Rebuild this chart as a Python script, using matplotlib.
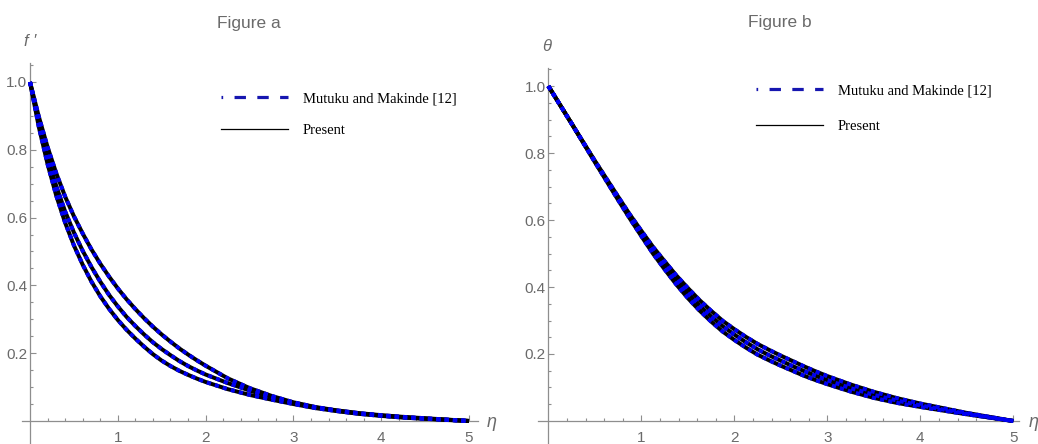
import numpy as np
import matplotlib
matplotlib.use("Agg")
import matplotlib.pyplot as plt
from matplotlib.lines import Line2D
from matplotlib.ticker import FixedLocator

# ---- data -------------------------------------------------------------
# Figure a: velocity profiles f'(eta) for three parameter values
eta_a = [0.0, 0.1, 0.2, 0.3, 0.4, 0.5, 0.6, 0.7, 0.8, 0.9, 1.0,
         1.1, 1.2, 1.3, 1.4, 1.5, 1.6, 1.7, 1.8, 1.9, 2.0,
         2.25, 2.5, 2.75, 3.0, 3.25, 3.5, 3.75, 4.0, 4.25, 4.5, 4.75, 5.0]
fp_upper = [1.0, 0.898, 0.808, 0.730, 0.662, 0.604, 0.553, 0.506, 0.464,
            0.426, 0.391, 0.359, 0.330, 0.303, 0.278, 0.255, 0.234, 0.214,
            0.196, 0.179, 0.163, 0.126, 0.097, 0.074, 0.055, 0.041, 0.031,
            0.023, 0.017, 0.012, 0.008, 0.004, 0.0]
fp_middle = [1.0, 0.882, 0.780, 0.692, 0.618, 0.556, 0.502, 0.454, 0.411,
             0.372, 0.338, 0.307, 0.280, 0.255, 0.232, 0.212, 0.194, 0.177,
             0.162, 0.149, 0.137, 0.112, 0.090, 0.070, 0.053, 0.040, 0.030,
             0.022, 0.016, 0.011, 0.007, 0.0035, 0.0]
fp_lower = [1.0, 0.868, 0.758, 0.664, 0.585, 0.518, 0.461, 0.411, 0.368,
            0.331, 0.298, 0.269, 0.243, 0.219, 0.197, 0.178, 0.162, 0.148,
            0.136, 0.125, 0.115, 0.094, 0.077, 0.063, 0.050, 0.038, 0.029,
            0.021, 0.015, 0.010, 0.0065, 0.003, 0.0]

# Figure b: temperature profiles theta(eta) for three parameter values
eta_b = [0.0, 0.25, 0.5, 0.75, 0.875, 1.0, 1.125, 1.25, 1.375, 1.5, 1.625,
         1.75, 1.875, 2.0, 2.125, 2.25, 2.375, 2.5, 2.625, 2.75, 2.875,
         3.0, 3.25, 3.5, 3.75, 4.0, 4.25, 4.5, 4.75, 5.0]
theta_upper = [1.0, 0.888, 0.777, 0.670, 0.617, 0.568, 0.520, 0.477, 0.435,
               0.397, 0.361, 0.329, 0.299, 0.274, 0.251, 0.230, 0.212, 0.195,
               0.179, 0.163, 0.148, 0.134, 0.109, 0.087, 0.068, 0.052, 0.038,
               0.024, 0.012, 0.0]
theta_middle = [1.0, 0.888, 0.775, 0.665, 0.611, 0.560, 0.510, 0.465, 0.421,
                0.382, 0.345, 0.3125, 0.283, 0.258, 0.235, 0.214, 0.196,
                0.180, 0.164, 0.149, 0.135, 0.122, 0.098, 0.078, 0.061,
                0.0465, 0.034, 0.022, 0.0105, 0.0]
theta_lower = [1.0, 0.888, 0.773, 0.660, 0.605, 0.552, 0.500, 0.453, 0.408,
               0.367, 0.330, 0.297, 0.267, 0.242, 0.219, 0.198, 0.181, 0.165,
               0.150, 0.135, 0.122, 0.110, 0.088, 0.069, 0.054, 0.042, 0.031,
               0.020, 0.010, 0.0]

x_major = [1, 2, 3, 4, 5]
x_major_labels = ["1", "2", "3", "4", "5"]
y_major = [0.2, 0.4, 0.6, 0.8, 1.0]
y_major_labels = ["0.2", "0.4", "0.6", "0.8", "1.0"]

legend_labels = ["Mutuku and Makinde [12]", "Present"]
titles = ["Figure a", "Figure b"]

# ---- style ------------------------------------------------------------
W, H = 1038, 444
SANS = ["Liberation Sans", "DejaVu Sans"]
SERIF = ["Liberation Serif", "DejaVu Serif"]
TEXT_GRAY = "#6a6a6a"
AXIS_GRAY = "#8e8e8e"
BLUE = "#0000f2"
LEGEND_BLUE = "#1616b0"

plt.rcParams["font.family"] = SANS
plt.rcParams["lines.scale_dashes"] = False

fig = plt.figure(figsize=(W / 100, H / 100), dpi=100)


def axes_px(left, top, right, bottom):
    return fig.add_axes([left / W, 1 - bottom / H, (right - left) / W,
                         (bottom - top) / H])


def style_axes(ax, xlim, ylim):
    ax.set_xlim(*xlim)
    ax.set_ylim(*ylim)
    ax.patch.set_visible(False)
    for s in ("top", "right"):
        ax.spines[s].set_visible(False)
    for s in ("left", "bottom"):
        ax.spines[s].set_position(("data", 0))
        ax.spines[s].set_color(AXIS_GRAY)
        ax.spines[s].set_linewidth(0.9)
    ax.set_xticks(x_major, x_major_labels)
    ax.set_yticks(y_major, y_major_labels)
    ax.xaxis.set_minor_locator(FixedLocator(np.arange(0.2, 5.01, 0.2)))
    ax.yaxis.set_minor_locator(FixedLocator(np.arange(0.05, ylim[1], 0.05)))
    ax.tick_params(which="both", direction="in", color=AXIS_GRAY, width=0.8)
    ax.tick_params(which="major", length=4.5, labelsize=11,
                   labelcolor=TEXT_GRAY)
    ax.tick_params(which="minor", length=2.5)
    ax.tick_params(axis="x", pad=7)
    ax.tick_params(axis="y", pad=2)


def draw_curves(ax, x, series):
    for y in series:
        ax.plot(x, y, color="black", lw=2.9, solid_capstyle="butt",
                solid_joinstyle="round", zorder=3)
        ax.plot(x, y, color=BLUE, lw=2.9, dashes=(3.0, 3.0),
                dash_capstyle="butt", zorder=4)


def draw_legend(ax, left_px, top_px, spacing):
    handles = [
        Line2D([], [], color=LEGEND_BLUE, lw=2.3,
               linestyle=(7.0, (8.2, 8.2)), dash_capstyle="butt"),
        Line2D([], [], color="black", lw=0.9),
    ]
    ax.legend(handles, legend_labels, loc="upper left",
              bbox_to_anchor=(left_px / W, 1 - top_px / H),
              bbox_transform=fig.transFigure, frameon=False,
              prop={"family": SERIF, "size": 10.5},
              handlelength=4.6, handletextpad=1.0, labelspacing=spacing,
              borderpad=0, borderaxespad=0)


# ---- Figure a -----------------------------------------------------------
ax_a = axes_px(22.1, 63.0, 477.8, 443.0)
style_axes(ax_a, (-0.09, 5.10), (-0.065, 1.056))
draw_curves(ax_a, eta_a, [fp_upper, fp_middle, fp_lower])
draw_legend(ax_a, 221, 92, 1.3)

# ---- Figure b -----------------------------------------------------------
ax_b = axes_px(538.1, 67.6, 1018.9, 443.1)
style_axes(ax_b, (-0.11, 5.06), (-0.066, 1.055))
draw_curves(ax_b, eta_b, [theta_upper, theta_middle, theta_lower])
draw_legend(ax_b, 756, 84, 1.55)

# ---- titles and axis labels ------------------------------------------------
fig.text(249 / W, 1 - 28 / H, titles[0], ha="center", va="baseline",
         size=12.5, color=TEXT_GRAY)
fig.text(780 / W, 1 - 27 / H, titles[1], ha="center", va="baseline",
         size=12.5, color=TEXT_GRAY)
fig.text(24 / W, 1 - 46 / H, "f \u2032", ha="left", va="baseline",
         size=12, style="italic", color=TEXT_GRAY)
fig.text(546.5 / W, 1 - 51 / H, "\u03b8", ha="center", va="baseline",
         size=12, style="italic", color=TEXT_GRAY)
fig.text(487 / W, 1 - 427 / H, "\u03b7", ha="left", va="baseline",
         size=13, style="italic", color=TEXT_GRAY)
fig.text(1029 / W, 1 - 427 / H, "\u03b7", ha="left", va="baseline",
         size=13, style="italic", color=TEXT_GRAY)

fig.savefig("out.png", dpi=100)
